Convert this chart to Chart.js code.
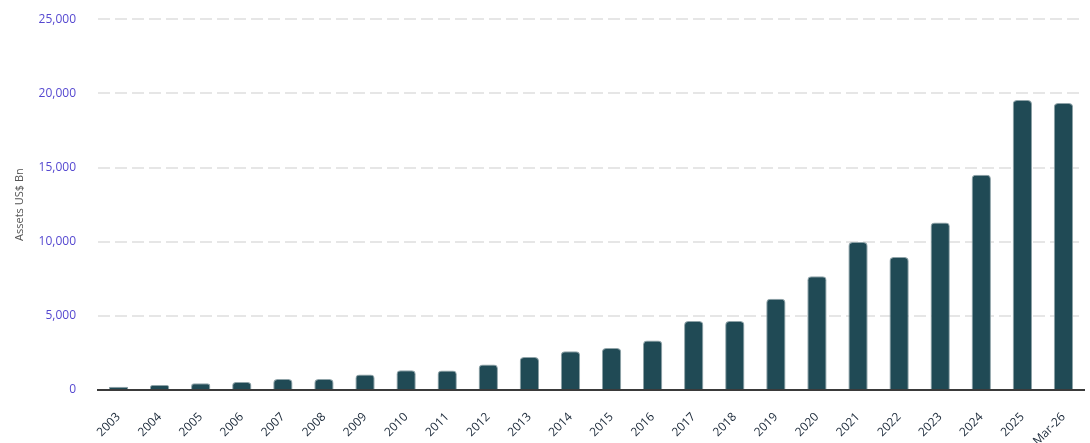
<!DOCTYPE html>
<html>
<head>
<meta charset="utf-8">
<script src="https://cdn.jsdelivr.net/npm/chart.js@4/dist/chart.umd.min.js"></script>
<style>
    html, body { margin: 0; padding: 0; background: #fff; overflow: hidden; }
    #wrap { width: 1090px; height: 453px; margin-top: -10px; position: relative; }
</style>
</head>
<body>
<div id="wrap"><canvas id="assets"></canvas></div>
<script>
// categories and values (US$ Bn)
const years = ['2003', '2004', '2005', '2006', '2007', '2008', '2009', '2010', '2011', '2012',
    '2013', '2014', '2015', '2016', '2017', '2018', '2019', '2020', '2021', '2022',
    '2023', '2024', '2025', 'Mar-26'];
const assets = [220, 336, 448, 540, 740, 740, 1050, 1340, 1320, 1720,
    2220, 2620, 2830, 3330, 4650, 4650, 6150, 7670, 9980, 8970,
    11300, 14520, 19550, 19350];
const yTicks = [0, 5000, 10000, 15000, 20000, 25000];

document.addEventListener('DOMContentLoaded', function() {
    const ctx = document.getElementById('assets').getContext('2d');

    const data = {
        labels: years,
        datasets: [{
            data: assets,
            backgroundColor: '#204a55',
            borderColor: '#8fa3a8',
            borderWidth: 1,
            borderSkipped: 'bottom',
            borderRadius: { topLeft: 4, topRight: 4, bottomLeft: 0, bottomRight: 0 },
            barPercentage: 1,
            categoryPercentage: 0.47
        }]
    };

    const options = {
        responsive: true,
        maintainAspectRatio: false,
        animation: false,
        layout: { padding: { top: 2, right: 6, left: 0, bottom: 0 } },
        plugins: {
            legend: { display: false },
            tooltip: { enabled: false }
        },
        scales: {
            x: {
                grid: { display: false },
                border: { display: true, color: '#3a3a3a', width: 2 },
                ticks: {
                    color: '#1c2a3a',
                    font: { family: 'Open Sans', size: 12 },
                    maxRotation: 45,
                    minRotation: 45,
                    padding: 12,
                    autoSkip: false
                },
                afterFit: function(scale) { scale.height = 53; }
            },
            y: {
                min: 0,
                max: 25000,
                afterBuildTicks: function(scale) {
                    scale.ticks = yTicks.map(v => ({ value: v }));
                },
                border: { display: false, dash: [12, 5] },
                grid: {
                    color: function(c) { return c.tick.value === 0 ? 'rgba(0,0,0,0)' : '#e6e6e6'; },
                    lineWidth: 2,
                    drawTicks: false
                },
                ticks: {
                    color: '#5548d0',
                    font: { family: 'Open Sans', size: 12 },
                    padding: 22,
                    callback: v => v.toLocaleString('en-US')
                },
                title: {
                    display: true,
                    text: 'Assets US$ Bn',
                    color: '#555',
                    font: { family: 'Open Sans', size: 11 },
                    padding: { top: 13, bottom: 0 }
                },
                afterFit: function(scale) { scale.width = 98; }
            }
        }
    };

    new Chart(ctx, { type: 'bar', data: data, options: options });
});
</script>
</body>
</html>
